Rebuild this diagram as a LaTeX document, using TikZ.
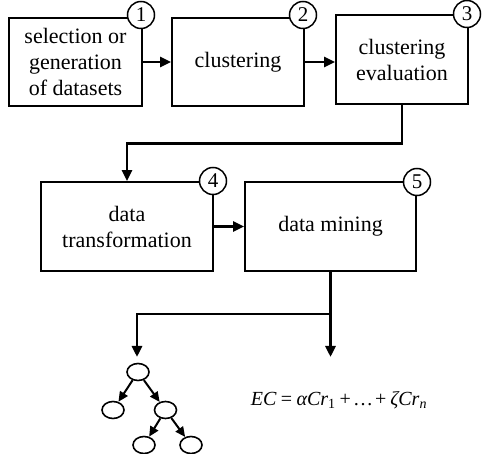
\documentclass[tikz,border=0pt]{standalone}
\usepackage{fontspec}
\setmainfont{Liberation Serif}
\usetikzlibrary{arrows.meta,shapes.geometric}
\begin{document}
\begin{tikzpicture}[x=1pt,y=-1pt,
  box/.style={draw,line width=1.8pt,align=center,inner sep=0pt,font=\fontsize{22}{26}\selectfont},
  num/.style={draw,circle,fill=white,line width=1.5pt,minimum size=27pt,inner sep=0pt,font=\fontsize{21}{21}\selectfont},
  conn/.style={line width=2.8pt,-{Triangle[length=11pt,width=10pt]}},
  leaf/.style={draw,ellipse,line width=1.6pt,minimum width=22pt,minimum height=17pt,inner sep=0pt},
  tarr/.style={line width=2pt,-{Triangle[length=10pt,width=9pt]}}]
\useasboundingbox (0,0) rectangle (482,454);

\node[box,minimum width=133pt,minimum height=88pt] (b1) at (75.5,62) {selection or\\generation\\of datasets};
\node[box,minimum width=132pt,minimum height=88pt] (b2) at (238,62) {clustering};
\node[box,minimum width=132pt,minimum height=89pt] (b3) at (402,59.5) {clustering\\evaluation};
\node[box,minimum width=172pt,minimum height=89pt] (b4) at (127,226.5) {data\\transformation};
\node[box,minimum width=171pt,minimum height=89pt] (b5) at (330.5,226.5) {data mining};

\node[num] (n1) at (141,15) {1};
\node[num] (n2) at (303,15) {2};
\node[num] (n3) at (467,14) {3};
\node[num] (n4) at (213,181) {4};
\node[num] (n5) at (417,182) {5};

\draw[conn] (b1.east) -- (b2.west);
\draw[conn] (b2.east) -- (b2.east -| b3.west);
\draw[conn] (b3.south) -- ++(0,39) -| (b4.north);
\draw[conn] (b4.east) -- (b5.west);

\coordinate (split) at (330.5,314);
\coordinate (tl) at (137,357);
\coordinate (tr) at (330.5,357);
\draw[conn] (b5.south) -- (split) -| (tl);
\draw[conn] (split) -- (tr);

\node[leaf] (r) at (138,372) {};
\node[leaf] (l) at (113,410) {};
\node[leaf] (m) at (165.5,410) {};
\node[leaf] (g1) at (144,445) {};
\node[leaf] (g2) at (191,445) {};
\draw[tarr] (r) -- (l);
\draw[tarr] (r) -- (m);
\draw[tarr] (m) -- (g1);
\draw[tarr] (m) -- (g2);

\node[anchor=base,inner sep=0pt,font=\fontsize{20}{20}\selectfont] (ec) at (339,405)
  {{\itshape EC}\hspace{0.22em}=\hspace{0.22em}{\itshape αCr}\textsubscript{1}\hspace{0.2em}+\hspace{0.1em}…\hspace{0.1em}+\hspace{0.2em}{\itshape ζCr\textsubscript{n}}};
\end{tikzpicture}
\end{document}
